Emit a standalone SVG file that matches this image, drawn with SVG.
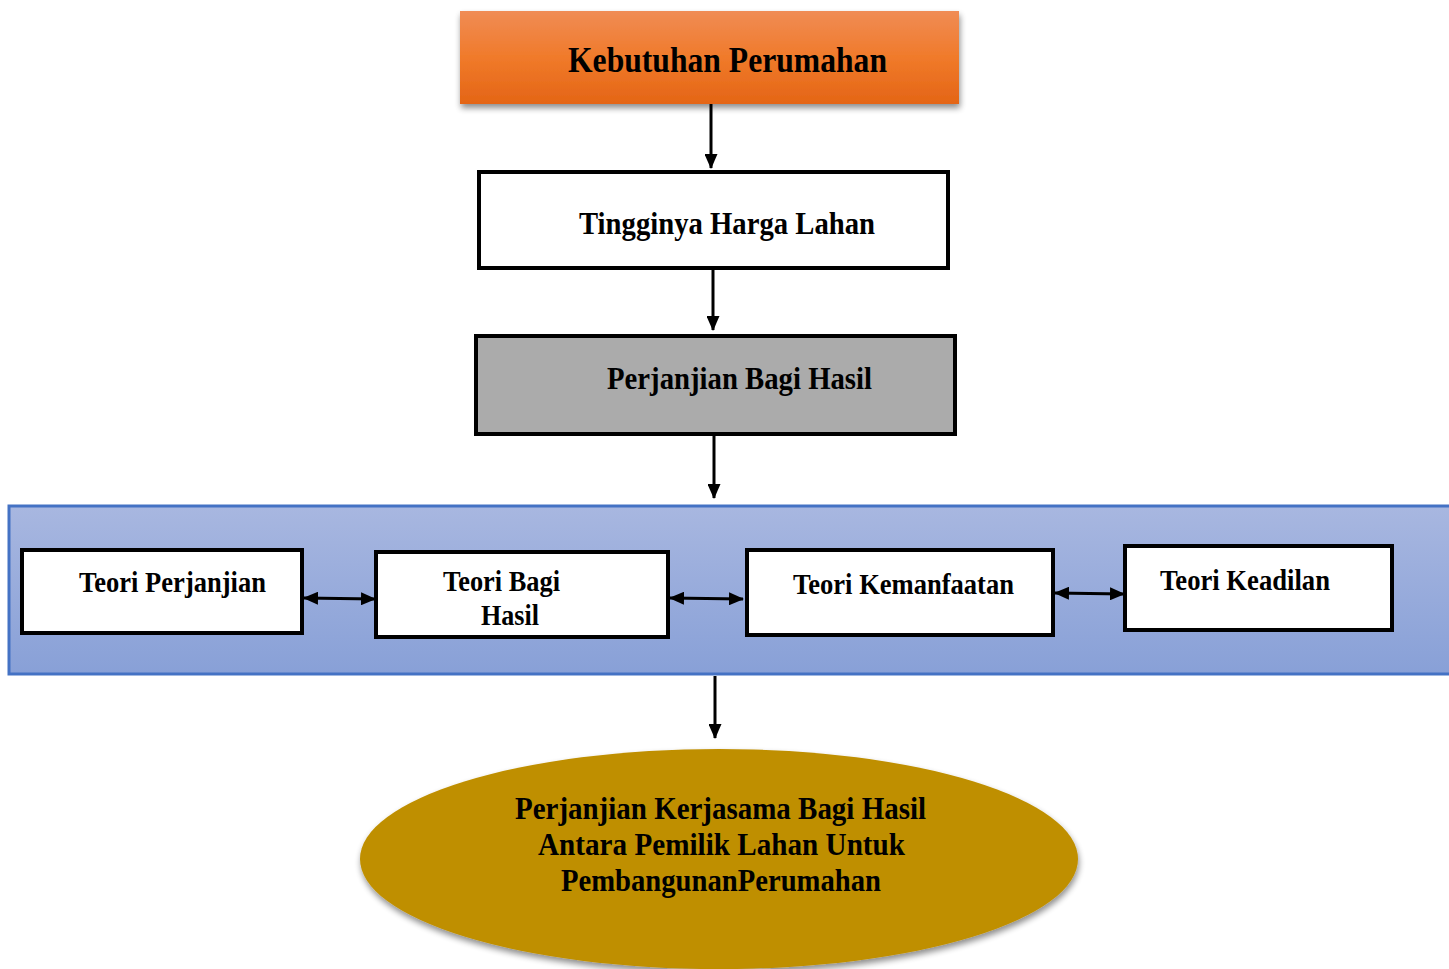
<svg xmlns="http://www.w3.org/2000/svg" width="1449" height="969" viewBox="0 0 1449 969">
<defs>
<linearGradient id="gOrange" x1="0" y1="0" x2="0" y2="1"><stop offset="0" stop-color="#f08c55"/><stop offset="0.5" stop-color="#f07a2a"/><stop offset="1" stop-color="#e46516"/></linearGradient>
<linearGradient id="gBlue" x1="0" y1="0" x2="0" y2="1"><stop offset="0" stop-color="#a8b7e0"/><stop offset="1" stop-color="#88a0d7"/></linearGradient>
<filter id="shadow" x="-10%" y="-10%" width="120%" height="130%"><feGaussianBlur in="SourceAlpha" stdDeviation="3"/><feOffset dx="1" dy="4"/><feComponentTransfer><feFuncA type="linear" slope="0.45"/></feComponentTransfer><feMerge><feMergeNode/><feMergeNode in="SourceGraphic"/></feMerge></filter>
<marker id="ah" markerWidth="15" markerHeight="13" refX="14" refY="6.5" orient="auto" markerUnits="userSpaceOnUse"><path d="M0,0 L15,6.5 L0,13 z" fill="#000"/></marker>
<marker id="ahs" markerWidth="15" markerHeight="13" refX="1" refY="6.5" orient="auto" markerUnits="userSpaceOnUse"><path d="M15,0 L0,6.5 L15,13 z" fill="#000"/></marker>
</defs>
<style>
text{font-family:"Liberation Serif","Times New Roman",serif;font-weight:bold;fill:#000}
.box{fill:#fff;stroke:#000;stroke-width:4}
.conn{stroke:#000;stroke-width:3;fill:none}
</style>
<rect width="1449" height="969" fill="#fff"/>
<g id="panel">
<rect x="9" y="506" width="1445" height="168" fill="url(#gBlue)" stroke="#4472c4" stroke-width="3"/>
</g>
<g id="n1">
<rect x="460" y="11" width="499" height="93" fill="url(#gOrange)" filter="url(#shadow)"/>
<text x="568" y="72" font-size="35" textLength="319" lengthAdjust="spacingAndGlyphs">Kebutuhan Perumahan</text>
</g>
<g id="n2">
<rect class="box" x="479" y="172" width="469" height="96"/>
<text x="579" y="234" font-size="31" textLength="296" lengthAdjust="spacingAndGlyphs">Tingginya Harga Lahan</text>
</g>
<g id="n3">
<rect x="476" y="336" width="479" height="98" fill="#ababab" stroke="#000" stroke-width="4"/>
<text x="607" y="389" font-size="31" textLength="265" lengthAdjust="spacingAndGlyphs">Perjanjian Bagi Hasil</text>
</g>
<g id="t1">
<rect class="box" x="22" y="550" width="280" height="83"/>
<text x="79" y="592" font-size="29" textLength="187" lengthAdjust="spacingAndGlyphs">Teori Perjanjian</text>
</g>
<g id="t2">
<rect class="box" x="376" y="552" width="292" height="85"/>
<text x="443" y="591" font-size="29" textLength="117" lengthAdjust="spacingAndGlyphs">Teori Bagi</text>
<text x="481" y="625" font-size="29" textLength="58" lengthAdjust="spacingAndGlyphs">Hasil</text>
</g>
<g id="t3">
<rect class="box" x="747" y="550" width="306" height="85"/>
<text x="793" y="594" font-size="29" textLength="221" lengthAdjust="spacingAndGlyphs">Teori Kemanfaatan</text>
</g>
<g id="t4">
<rect class="box" x="1125" y="546" width="267" height="84"/>
<text x="1160" y="590" font-size="29" textLength="170" lengthAdjust="spacingAndGlyphs">Teori Keadilan</text>
</g>
<g id="result">
<ellipse cx="719" cy="859" rx="359" ry="110" fill="#bf8f00" filter="url(#shadow)"/>
<text x="515" y="819" font-size="31" textLength="411" lengthAdjust="spacingAndGlyphs">Perjanjian Kerjasama Bagi Hasil</text>
<text x="538" y="855" font-size="31" textLength="367" lengthAdjust="spacingAndGlyphs">Antara Pemilik Lahan Untuk</text>
<text x="561" y="891" font-size="31" textLength="320" lengthAdjust="spacingAndGlyphs">PembangunanPerumahan</text>
</g>
<g id="connectors">
<line class="conn" x1="711" y1="104" x2="711" y2="168" marker-end="url(#ah)"/>
<line class="conn" x1="713" y1="268" x2="713" y2="330" marker-end="url(#ah)"/>
<line class="conn" x1="714" y1="434" x2="714" y2="498" marker-end="url(#ah)"/>
<line class="conn" x1="715" y1="676" x2="715" y2="738" marker-end="url(#ah)"/>
<line class="conn" x1="304" y1="598" x2="375" y2="599" marker-start="url(#ahs)" marker-end="url(#ah)"/>
<line class="conn" x1="670" y1="598" x2="743" y2="599" marker-start="url(#ahs)" marker-end="url(#ah)"/>
<line class="conn" x1="1055" y1="593" x2="1124" y2="594" marker-start="url(#ahs)" marker-end="url(#ah)"/>
</g>
</svg>
